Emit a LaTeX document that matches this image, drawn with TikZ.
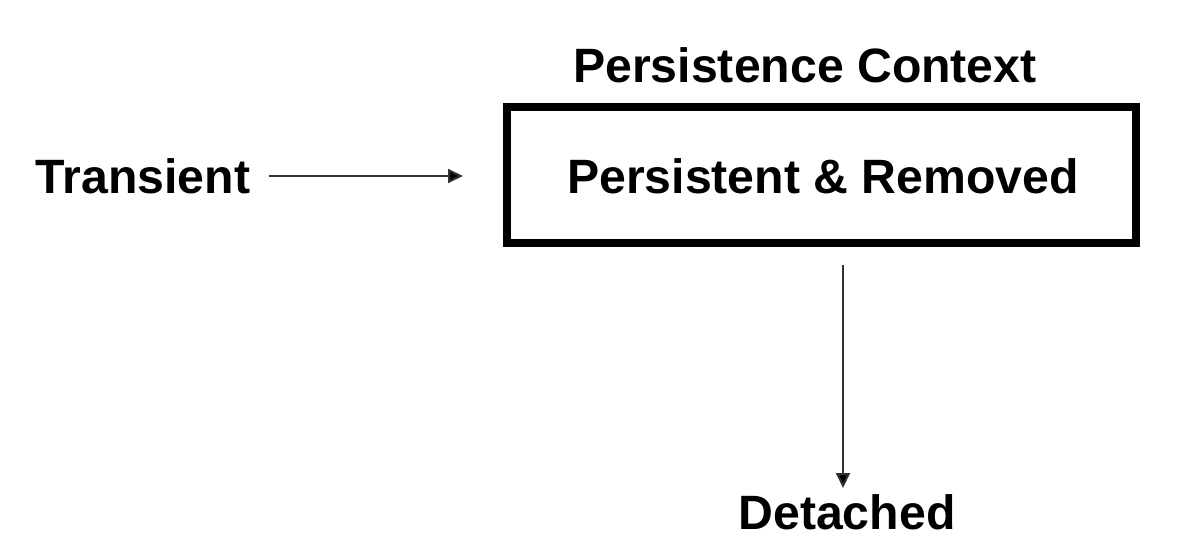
\documentclass[tikz,border=0pt]{standalone}
\usepackage{fontspec}
\setmainfont{Liberation Sans}
\usetikzlibrary{arrows.meta}
\begin{document}
\begin{tikzpicture}[x=0.5pt,y=-0.5pt,
  lbl/.style={font=\bfseries\fontsize{24.1}{28}\selectfont, inner sep=0pt, anchor=center},
  conn/.style={line width=1pt, draw=black!80, -{Triangle[length=7.5pt,width=7pt,fill=black]}},
  ctx/.style={draw, line width=4.2pt, minimum width=629*0.5pt, minimum height=136*0.5pt, inner sep=0pt}]
\useasboundingbox (0,0) rectangle (1199,556);
\node[ctx] (box) at (821.5,175) {};
\node[lbl] (rem) at (823,176) {Persistent \& Removed};
\node[lbl] (ctxl) at (805,65) {Persistence Context};
\node[lbl] (tr) at (143,176) {Transient};
\node[lbl] (det) at (847,512) {Detached};
\coordinate (a1) at (463,176);
\coordinate (b0) at (843,265);
\coordinate (b1) at (843,488);
\draw[conn] (tr.east) ++(18,0) -- (a1);
\draw[conn] (b0) -- (b1);
\end{tikzpicture}
\end{document}
